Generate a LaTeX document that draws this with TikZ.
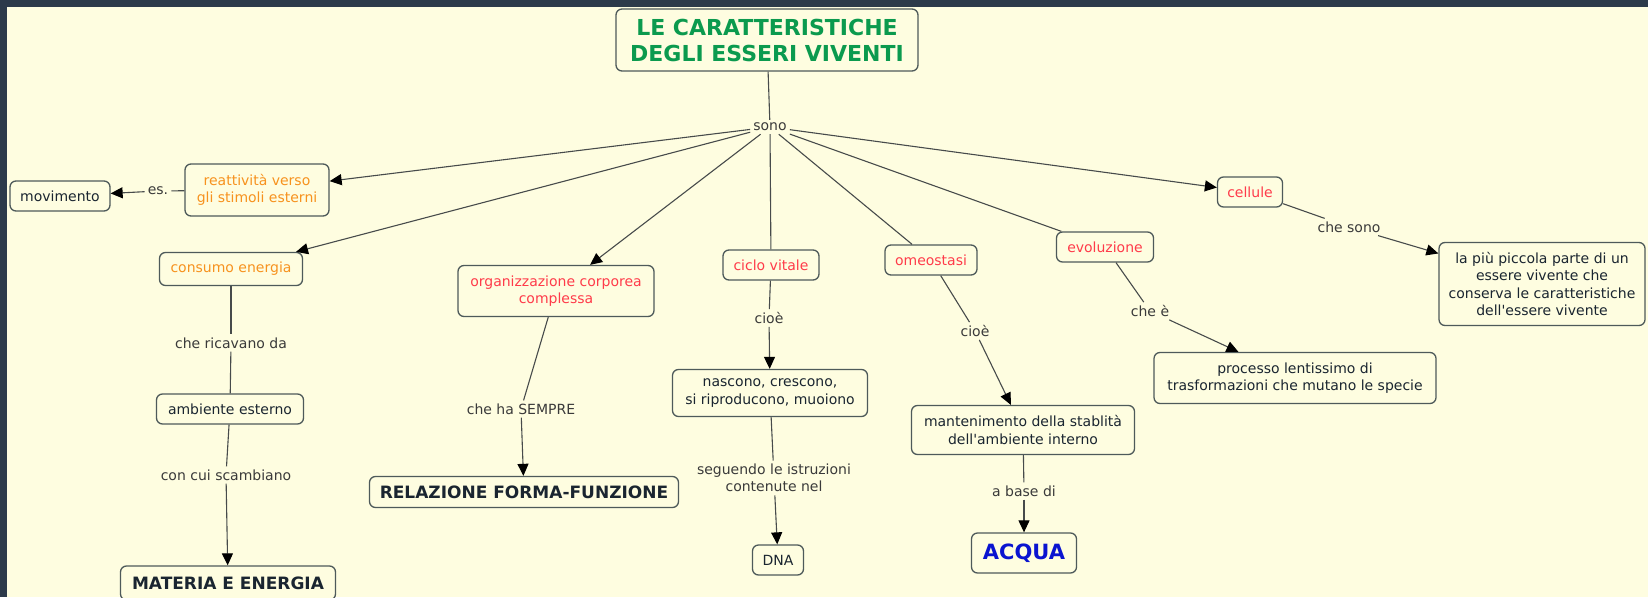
\documentclass[tikz,border=0pt]{standalone}
\usepackage{fontspec}
\setmainfont{DejaVu Sans}[Ligatures=TeXOff]
\usetikzlibrary{arrows.meta}
\definecolor{bgc}{HTML}{FEFDE0}
\definecolor{framec}{HTML}{2C3A4A}
\definecolor{boxc}{HTML}{4E5A5A}
\definecolor{linec}{HTML}{474B4B}
\definecolor{txt}{HTML}{1A2530}
\definecolor{lblc}{HTML}{3A3A3A}
\definecolor{orng}{HTML}{F7921E}
\definecolor{redc}{HTML}{FF3B4A}
\definecolor{grn}{HTML}{0B9A4E}
\definecolor{blu}{HTML}{0A14D0}
\begin{document}
\begin{tikzpicture}[x=1pt,y=-1pt,
  concept/.style={draw=boxc, line width=1.3pt, rounded corners=6pt, fill=bgc, text=txt,
    align=center, inner sep=2pt, font=\fontsize{14}{17.5}\selectfont},
  lbl/.style={text=lblc, align=center, inner xsep=3pt, inner ysep=3pt,
    font=\fontsize{14}{17.5}\selectfont},
  conn/.style={draw=linec, line width=1.1pt},
  arr/.style={conn, -{Triangle[length=12pt,width=11pt,color=black]}},
  bigbold/.style={font=\bfseries\fontsize{17}{20}\selectfont}
]
\useasboundingbox (0,0) rectangle (1648,597);
\fill[framec] (0,0) rectangle (1648,597);
\fill[bgc] (7,7) rectangle (1648,597);

% concepts
\node[concept, minimum width=302pt, minimum height=62pt, text=grn,
  font=\bfseries\fontsize{22}{26}\selectfont] (title) at (767,40) {LE CARATTERISTICHE\\DEGLI ESSERI VIVENTI};
\node[concept, minimum width=144pt, minimum height=52pt, text=orng] (reatt) at (257,190) {reattività verso\\gli stimoli esterni};
\node[concept, minimum width=100pt, minimum height=30pt] (movim) at (60,196) {movimento};
\node[concept, minimum width=143pt, minimum height=33pt, text=orng] (consumo) at (231,269) {consumo energia};
\node[concept, minimum width=147pt, minimum height=30pt] (amb) at (230,409) {ambiente esterno};
\node[concept, minimum width=215pt, minimum height=34pt, bigbold] (materia) at (228,583) {MATERIA E ENERGIA};
\node[concept, minimum width=196pt, minimum height=51pt, text=redc] (org) at (556,291) {organizzazione corporea\\complessa};
\node[concept, minimum width=309pt, minimum height=31pt, bigbold] (relaz) at (524,492) {RELAZIONE FORMA-FUNZIONE};
\node[concept, minimum width=96pt, minimum height=30pt, text=redc] (ciclo) at (771,265) {ciclo vitale};
\node[concept, minimum width=195pt, minimum height=47pt] (nascono) at (770,393) {nascono, crescono,\\si riproducono, muoiono};
\node[concept, minimum width=51pt, minimum height=30pt] (dna) at (778,560) {DNA};
\node[concept, minimum width=92pt, minimum height=30pt, text=redc] (omeo) at (931,260) {omeostasi};
\node[concept, minimum width=223pt, minimum height=49pt] (mant) at (1023,430) {mantenimento della stablità\\dell'ambiente interno};
\node[concept, minimum width=105pt, minimum height=40pt, text=blu,
  font=\bfseries\fontsize{21}{24}\selectfont] (acqua) at (1024,553) {ACQUA};
\node[concept, minimum width=97pt, minimum height=30pt, text=redc] (evol) at (1105,247) {evoluzione};
\node[concept, minimum width=282pt, minimum height=51pt] (proc) at (1295,378) {processo lentissimo di\\trasformazioni che mutano le specie};
\node[concept, minimum width=65pt, minimum height=30pt, text=redc] (cellule) at (1250,192) {cellule};
\node[concept, minimum width=206pt, minimum height=83pt] (piu) at (1542,284) {la più piccola parte di un\\essere vivente che\\conserva le caratteristiche\\dell'essere vivente};

% linking phrases
\node[lbl] (sono) at (770,127) {sono};
\node[lbl] (es) at (158,191) {es.};
\node[lbl] (ricav) at (231,343) {che ricavano da};
\node[lbl] (scamb) at (226,475) {con cui scambiano};
\node[lbl] (sempre) at (521,409) {che ha SEMPRE};
\node[lbl] (cioea) at (769,318) {cioè};
\node[lbl] (segu) at (774,478) {seguendo le istruzioni\\contenute nel};
\node[lbl] (cioeb) at (975,331) {cioè};
\node[lbl] (base) at (1024,491) {a base di};
\node[lbl] (chee) at (1150,311) {che è};
\node[lbl] (chesono) at (1349,227) {che sono};

% connectors
\draw[conn] (title) -- (sono);
\draw[arr] (sono) -- (reatt);
\draw[arr] (sono) -- (consumo);
\draw[arr] (sono) -- (org);
\draw[conn] (sono) -- (ciclo);
\draw[conn] (sono) -- (omeo);
\draw[conn] (sono) -- (evol);
\draw[arr] (sono) -- (cellule);
\draw[conn] (reatt) -- (es);
\draw[arr] (es) -- (movim);
\draw[conn] (consumo) -- (ricav);
\draw[conn] (ricav) -- (amb);
\draw[conn] (amb) -- (scamb);
\draw[arr] (scamb) -- (materia);
\draw[conn] (org) -- (sempre);
\draw[arr] (sempre) -- (relaz);
\draw[conn] (ciclo) -- (cioea);
\draw[arr] (cioea) -- (nascono);
\draw[conn] (nascono) -- (segu);
\draw[arr] (segu) -- (dna);
\draw[conn] (omeo) -- (cioeb);
\draw[arr] (cioeb) -- (mant);
\draw[conn] (mant) -- (base);
\draw[arr] (base) -- (acqua);
\draw[conn] (evol) -- (chee);
\draw[arr] (chee) -- (proc);
\draw[conn] (cellule) -- (chesono);
\draw[arr] (chesono) -- (piu);
\end{tikzpicture}
\end{document}
